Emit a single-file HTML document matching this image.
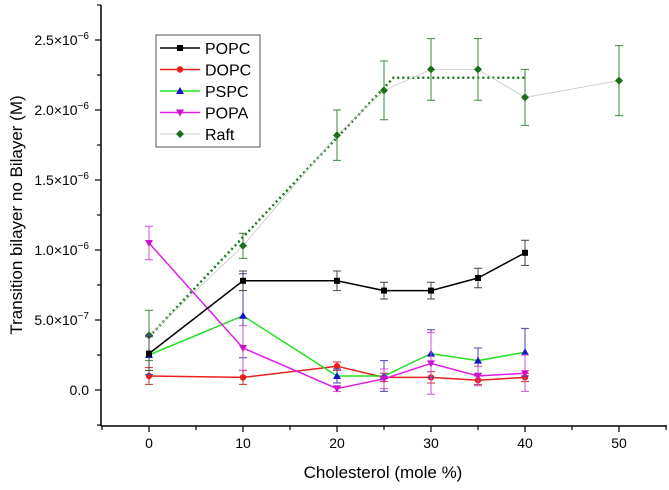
<!DOCTYPE html>
<html><head><meta charset="utf-8"><style>
body{margin:0;background:#fff}
svg{font-family:"Liberation Sans",Arial,sans-serif;display:block}
</style></head><body>
<svg id="chart" width="669" height="490" viewBox="0 0 669 490" xmlns="http://www.w3.org/2000/svg">
<g id="axes"></g>
<g id="plot"></g>
<text x="383" y="478" text-anchor="middle" font-size="17">Cholesterol (mole %)</text>
<text transform="translate(22,215) rotate(-90)" text-anchor="middle" font-size="17">Transition bilayer no Bilayer (M)</text>
<g>
<rect x="156" y="35" width="104" height="112" fill="#fff" stroke="#555" stroke-width="1"/>
<g id="leg"></g>
</g>
</svg>
<script>
const xTicks=[0,10,20,30,40,50];
const yTicks=[0,0.5,1.0,1.5,2.0,2.5];
const yTickMant=["0.0","5.0","1.0","1.5","2.0","2.5"];
const yTickExp=["","−7","−6","−6","−6","−6"];
const xs=[0,10,20,25,30,35,40];
const raftX=[0,10,20,25,30,35,40,50];
const popc=[0.26,0.78,0.78,0.71,0.71,0.80,0.98];
const popcErr=[0.12,0.07,0.07,0.06,0.06,0.07,0.09];
const dopc=[0.10,0.09,0.17,0.09,0.09,0.07,0.09];
const dopcErr=[0.06,0.05,0.03,0.03,0.04,0.03,0.03];
const pspc=[0.25,0.53,0.10,0.10,0.26,0.21,0.27];
const pspcErr=[0.14,0.30,0.05,0.11,0.17,0.09,0.17];
const popa=[1.05,0.30,0.01,0.08,0.19,0.10,0.12];
const popaErr=[0.12,0.16,0.02,0.07,0.22,0.07,0.13];
const raft=[0.39,1.03,1.82,2.14,2.29,2.29,2.09,2.21];
const raftErr=[0.18,0.09,0.18,0.21,0.22,0.22,0.20,0.25];
const fitX=[0,26,40];
const fitY=[0.38,2.23,2.23];
const legendNames=["POPC","DOPC","PSPC","POPA","Raft"];

const NS="http://www.w3.org/2000/svg";
const X=v=>149+v*9.4;
const Y=v=>390-v*140;
function mk(tag,attrs,parent){const e=document.createElementNS(NS,tag);for(const k in attrs)e.setAttribute(k,attrs[k]);parent.appendChild(e);return e;}
const axes=document.getElementById('axes'),plot=document.getElementById('plot');
let a=mk('line',{x1:101,y1:426,x2:667,y2:426,stroke:'#000','stroke-width':1.5},axes);


a=mk('line',{x1:101,y1:5,x2:101,y2:426,stroke:'#000','stroke-width':1.5},axes);


for(let v=-5;v<=55;v+=5){const major=v%10===0;mk('line',{x1:X(v),y1:426,x2:X(v),y2:426+(major?6:4),stroke:'#000','stroke-width':1.2},axes);}
xTicks.forEach(v=>{const t=mk('text',{x:X(v),y:448,'text-anchor':'middle','font-size':14},axes);t.textContent=v;

});
for(let v=-0.25;v<=2.76;v+=0.25){const major=Math.abs(v*2-Math.round(v*2))<1e-6;mk('line',{x1:101,y1:Y(v),x2:101-(major?6:4),y2:Y(v),stroke:'#000','stroke-width':1.2},axes);}
yTicks.forEach((v,i)=>{const t=mk('text',{x:89,y:Y(v)+5,'text-anchor':'end','font-size':14},axes);
 if(yTickExp[i]){
  const m=mk('tspan',{},t);m.textContent=yTickMant[i]+'×10';
  const e=mk('tspan',{dy:-6,'font-size':10},t);e.textContent=yTickExp[i];
 } else t.textContent=yTickMant[i];

});

function marker(type,x,y,c,p){
 if(type==='sq')return mk('rect',{x:x-3,y:y-3,width:6,height:6,fill:c},p);
 if(type==='ci')return mk('circle',{cx:x,cy:y,r:3.2,fill:c},p);
 if(type==='up')return mk('polygon',{points:`${x},${y-4} ${x-4},${y+3} ${x+4},${y+3}`,fill:c},p);
 if(type==='dn')return mk('polygon',{points:`${x},${y+4} ${x-4},${y-3} ${x+4},${y-3}`,fill:c},p);
 if(type==='di')return mk('polygon',{points:`${x},${y-4} ${x+4},${y} ${x},${y+4} ${x-4},${y}`,fill:c},p);
}
function series(name,xv,yv,ev,line,lw,mc,ec,type){
 const g=mk('g',{},plot);
 
 
 xv.forEach((x,i)=>{const cx=X(x),t=Y(yv[i]+ev[i]),b=Y(yv[i]-ev[i]);
  mk('path',{d:`M${cx},${t}V${b}M${cx-4},${t}H${cx+4}M${cx-4},${b}H${cx+4}`,stroke:ec,'stroke-width':1,fill:'none'},g);});
 mk('polyline',{points:xv.map((x,i)=>X(x)+','+Y(yv[i])).join(' '),fill:'none',stroke:line,'stroke-width':lw},g);
 xv.forEach((x,i)=>{const m=marker(type,X(x),Y(yv[i]),mc,g);
  
  });
}
const fit=mk('polyline',{points:fitX.map((x,i)=>X(x)+','+Y(fitY[i])).join(' '),fill:'none',stroke:'#1a7a1a','stroke-width':2.5,'stroke-dasharray':'2,3'},plot);


series('raft',raftX,raft,raftErr,'#c8c8c8',0.8,'#1a6e1a','#3a8a3a','di');
series('dopc',xs,dopc,dopcErr,'#e8201c',1.5,'#e8201c','#c03030','ci');
series('pspc',xs,pspc,pspcErr,'#22e022',1.5,'#1515c8','#4444aa','up');
series('popa',xs,popa,popaErr,'#e020e0',1.5,'#d010d0','#d050d0','dn');
series('popc',xs,popc,popcErr,'#000',1.5,'#000','#444','sq');

const leg=document.getElementById('leg');
const lc=['#000','#e8201c','#22e022','#e020e0','#ccc'],lm=['sq','ci','up','dn','di'],lmc=['#000','#e8201c','#1515c8','#d010d0','#1a6e1a'];
legendNames.forEach((n,i)=>{const y=48+i*21.5;
 const g=mk('g',{},leg);
 
 
 mk('line',{x1:160,y1:y,x2:200,y2:y,stroke:lc[i],'stroke-width':i===4?1:1.5},g);
 marker(lm[i],180,y,lmc[i],g);
 const t=mk('text',{x:205,y:y+6,'font-size':16},g);t.textContent=n;});
</script>
</body></html>
